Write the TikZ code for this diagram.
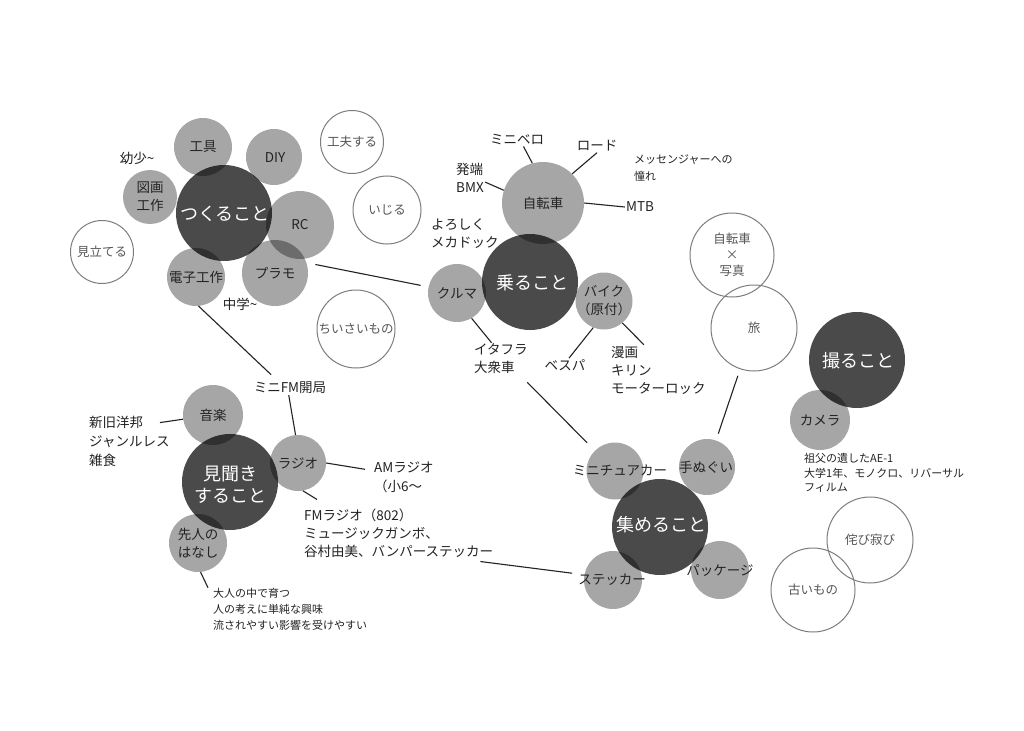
\documentclass[tikz,border=0pt]{standalone}
\usepackage{fontspec}
\setmainfont{Noto Sans CJK JP}
\usepackage{xcolor}
\usepackage{tikz}
\usetikzlibrary{calc}

\definecolor{rimgray}{RGB}{125,125,125}
\definecolor{inkgray}{RGB}{35,35,35}
\definecolor{softgray}{RGB}{85,85,85}

\begin{document}
\begin{tikzpicture}[x=1pt, y=-1pt,
  hub/.style={circle, fill=black, fill opacity=0.71, minimum size=96pt, inner sep=0pt},
  subdisc/.style={circle, fill=black, fill opacity=0.35, inner sep=0pt},
  idea/.style={circle, draw=rimgray, line width=1pt, inner sep=0pt, text=softgray,
    align=center, font=\fontsize{12.5}{16}\selectfont},
  hubtext/.style={text=white, align=center, inner sep=1pt, font=\fontsize{18}{22}\selectfont},
  subtext/.style={text=inkgray, align=center, inner sep=1pt, font=\fontsize{13.5}{18}\selectfont},
  note/.style={text=inkgray, align=left, inner sep=1pt, font=\fontsize{13.5}{18}\selectfont},
  smallnote/.style={note, font=\fontsize{11}{15}\selectfont},
  link/.style={draw=inkgray, line width=1.1pt}]

  \useasboundingbox[fill=white] (0,0) rectangle (1024,730);

  % ==== Discs (see-through, so overlaps darken) ====
  % hubs
  \node[hub] (tsukuru) at (224,213) {};
  \node[hub] (noru) at (530,282) {};
  \node[hub] (mikiki) at (230,482) {};
  \node[hub] (toru) at (857,360) {};
  \node[hub] (atsumeru) at (660,527) {};

  % satellites of tsukuru
  \node[subdisc, minimum size=58pt] (kougu) at (203,147) {};
  \node[subdisc, minimum size=56pt] (diy) at (274,157) {};
  \node[subdisc, minimum size=54pt] (zuga) at (150,197) {};
  \node[subdisc, minimum size=68pt] (rc) at (300,225) {};
  \node[subdisc, minimum size=66pt] (puramo) at (275,273) {};
  \node[subdisc, minimum size=58pt] (denshi) at (196,277) {};

  % satellites of noru
  \node[subdisc, minimum size=82pt] (jitensha) at (543,203) {};
  \node[subdisc, minimum size=58pt] (kuruma) at (457,293) {};
  \node[subdisc, minimum size=57pt] (baiku) at (604,301) {};

  % satellites of mikiki
  \node[subdisc, minimum size=60pt] (ongaku) at (213,415) {};
  \node[subdisc, minimum size=56pt] (radio) at (298,463) {};
  \node[subdisc, minimum size=58pt] (senjin) at (198,543) {};

  % satellite of toru
  \node[subdisc, minimum size=60pt] (camera) at (820,420) {};

  % satellites of atsumeru
  \node[subdisc, minimum size=57pt] (minicar) at (615,471) {};
  \node[subdisc, minimum size=56pt] (tenugui) at (707,467) {};
  \node[subdisc, minimum size=58pt] (sticker) at (613,580) {};
  \node[subdisc, minimum size=58pt] (package) at (720,570) {};

  % ==== Open circles ====
  \node[idea, minimum size=63pt] (mitateru) at (102,252) {見立てる};
  \node[idea, minimum size=63pt] (kufuu) at (352,142) {工夫する};
  \node[idea, minimum size=68pt] (ijiru) at (387,210) {いじる};
  \node[idea, minimum size=78pt] (chiisai) at (356,329) {ちいさいもの};
  \node[idea, minimum size=84pt] (jishashin) at (732,255) {自転車\\×\\写真};
  \node[idea, minimum size=86pt] (tabi) at (754,328) {旅};
  \node[idea, minimum size=86pt] (wabi) at (870,540) {侘び寂び};
  \node[idea, minimum size=84pt] (furui) at (813,590) {古いもの};

  % ==== Circle labels ====
  \node[hubtext] (tsukuru-l) at (225,214) {つくること};
  \node[hubtext] (noru-l) at (532,283) {乗ること};
  \node[hubtext] (mikiki-l) at (230,485) {見聞き\\すること};
  \node[hubtext] (toru-l) at (858,361) {撮ること};
  \node[hubtext] (atsumeru-l) at (661,525) {集めること};

  \node[subtext] (kougu-l) at (kougu) {工具};
  \node[subtext] (diy-l) at (275,158) {DIY};
  \node[subtext] (zuga-l) at (zuga) {図画\\工作};
  \node[subtext] (rc-l) at (rc) {RC};
  \node[subtext] (puramo-l) at (puramo) {プラモ};
  \node[subtext] (denshi-l) at (denshi) {電子工作};
  \node[subtext] (jitensha-l) at (jitensha) {自転車};
  \node[subtext] (kuruma-l) at (kuruma) {クルマ};
  \node[subtext] (baiku-l) at (baiku) {バイク\\（原付）};
  \node[subtext] (ongaku-l) at (ongaku) {音楽};
  \node[subtext] (radio-l) at (radio) {ラジオ};
  \node[subtext] (senjin-l) at (senjin) {先人の\\はなし};
  \node[subtext] (camera-l) at (camera) {カメラ};
  \node[subtext] (minicar-l) at (620,470) {ミニチュアカー};
  \node[subtext] (tenugui-l) at (706,467) {手ぬぐい};
  \node[subtext] (sticker-l) at (612,580) {ステッカー};
  \node[subtext] (package-l) at (720,571) {パッケージ};

  % ==== Notes ====
  \node[note] (yousyou) at (137,158) {幼少\textasciitilde};
  \node[note] (chuugaku) at (240,304) {中学\textasciitilde};

  \node[note] (minivelo) at (517,140) {ミニベロ};
  \node[note] (road) at (597,146) {ロード};
  \node[note, anchor=west] (bmx) at (455,178) {発端\\BMX};
  \node[note] (mtb) at (640,207) {MTB};
  \node[smallnote, anchor=west, font=\fontsize{11}{17}\selectfont] (messenger) at (633,168) {メッセンジャーへの\\憧れ};
  \node[note, anchor=west] (mechadoc) at (430,234) {よろしく\\メカドック};
  \node[note, anchor=west] (itafura) at (473,359) {イタフラ\\大衆車};
  \node[note] (vespa) at (565,365) {ベスパ};
  \node[note, anchor=west] (manga) at (610,370) {漫画\\キリン\\モーターロック};

  \node[note] (minifm) at (290,388) {ミニFM開局};
  \node[note, anchor=west, font=\fontsize{13.5}{19}\selectfont] (yoho) at (88,441) {新旧洋邦\\ジャンルレス\\雑食};
  \node[note, anchor=west, font=\fontsize{13.5}{19}\selectfont] (am) at (373,477) {AMラジオ\\（小6～};
  \node[note, anchor=west] (fm) at (303,533) {FMラジオ（802）\\ミュージックガンボ、\\谷村由美、バンパーステッカー};
  \node[smallnote, anchor=west, font=\fontsize{11}{16}\selectfont] (otona) at (212,609) {大人の中で育つ\\人の考えに単純な興味\\流されやすい影響を受けやすい};

  \node[smallnote, anchor=west, font=\fontsize{11}{14.5}\selectfont] (sofu) at (803,473) {祖父の遺したAE-1\\大学1年、モノクロ、リバーサル\\フィルム};

  % ==== Connectors ====
  \draw[link, shorten <=9pt, shorten >=8pt] (puramo.18) -- (kuruma.168);
  \draw[link, shorten >=9pt] (denshi.-85) -- (minifm.150);
  \draw[link] (minifm.-100) -- (radio.95);
  \draw[link] (ongaku.188) -- ($(yoho.north west)+(72,8)$);
  \draw[link] (radio.0) -- ($(am.north west)+(-8,9)$);
  \draw[link] (radio.-80) -- ($(fm.north west)+(14,-8)$);
  \draw[link] (senjin.-85) -- ($(otona.north west)+(-4,1)$);
  \draw[link, shorten >=5pt] ($(fm.south east)+(-14,3)$) -- (sticker-l.170);

  \draw[link] (jitensha.105) -- (minivelo.-45);
  \draw[link] (jitensha.45) -- (road.south);
  \draw[link] (bmx.-15) -- (jitensha.162);
  \draw[link] (jitensha.east) -- (mtb.west);
  \draw[link] (kuruma.-60) -- (itafura.120);
  \draw[link] (baiku.-112) -- (vespa.60);
  \draw[link] (baiku.-50) -- (manga.120);
  \draw[link, shorten <=10pt, shorten >=11pt] (itafura.-40) -- (minicar);

  \draw[link, shorten <=7pt, shorten >=7pt] (tabi) -- (tenugui);
\end{tikzpicture}
\end{document}
